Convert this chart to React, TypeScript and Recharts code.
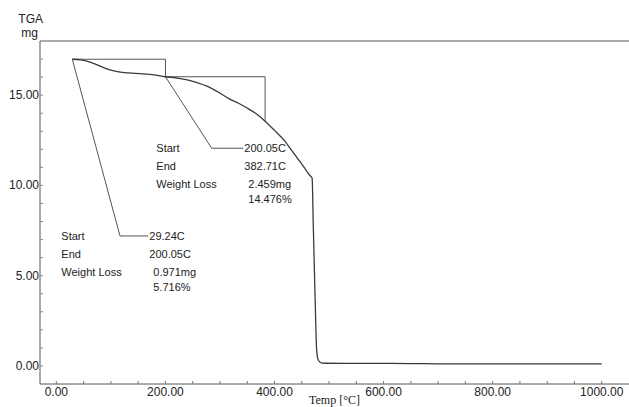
import { LineChart, Line, XAxis, YAxis, ReferenceLine, ReferenceDot, Label } from 'recharts'

// TGA curve
const tempC = [
  29.24, 45, 60, 75, 90, 100, 112, 125, 145, 165, 185, 200.05, 220, 240, 258, 276, 298, 318, 334, 349,
  366, 382.71, 400, 419, 430, 441, 453, 465, 469, 471, 473, 475, 477, 479, 482, 487, 495, 550, 600,
  650, 700, 750, 800, 900, 1000,
]
const massMg = [
  16.99, 16.95, 16.85, 16.68, 16.48, 16.38, 16.3, 16.25, 16.21, 16.17, 16.1, 16.02, 15.95, 15.85, 15.7,
  15.5, 15.15, 14.78, 14.55, 14.3, 13.98, 13.56, 13.05, 12.45, 12.0, 11.55, 11.05, 10.55, 10.4, 7.9,
  5.5, 3.1, 1.0, 0.45, 0.25, 0.16, 0.15, 0.14, 0.14, 0.13, 0.12, 0.11, 0.11, 0.11, 0.11,
]

const xTicks = [0, 50, 100, 150, 200, 250, 300, 350, 400, 450, 500, 550, 600, 650, 700, 750, 800, 850, 900, 950, 1000]
const yTicks = [0, 1, 2, 3, 4, 5, 6, 7, 8, 9, 10, 11, 12, 13, 14, 15, 16, 17]

// weight-loss steps
const step1 = { start: 29.24, end: 200.05, m0: 16.99, m1: 16.02, loss: '0.971mg', pct: '5.716%' }
const step2 = { start: 200.05, end: 382.71, m0: 16.02, m1: 13.56, loss: '2.459mg', pct: '14.476%' }

// leader lines from the step start to the text block
const leader1 = [
  { x: 29.24, y: 16.99 },
  { x: 116.7, y: 7.2 },
  { x: 168.6, y: 7.2 },
]
const leader2 = [
  { x: 200.05, y: 16.02 },
  { x: 284.8, y: 12.06 },
  { x: 342.8, y: 12.06 },
]

const data = tempC.map((t, i) => ({ t, m: massMg[i] }))

const INK = '#3a3a3a'
const FONT = '"Liberation Sans", Arial, sans-serif'

function XTick(props: any) {
  const { x, y, payload } = props
  const v = payload.value
  return (
    <g>
      <line x1={x} x2={x} y1={y} y2={y - 3} stroke="#777" />
      {v % 200 === 0 && (
        <text x={x} y={y + 12} textAnchor="middle" fontSize={12} fontFamily={FONT} fill="#222">
          {v.toFixed(2)}
        </text>
      )}
    </g>
  )
}

function YTick(props: any) {
  const { x, y, payload } = props
  const v = payload.value
  return (
    <g>
      <line x1={x} x2={x + 3} y1={y} y2={y} stroke="#888" />
      {v % 5 === 0 && (
        <text x={x - 1} y={y} dy={4} textAnchor="end" fontSize={12} fontFamily={FONT} fill="#222">
          {v.toFixed(2)}
        </text>
      )}
    </g>
  )
}

function StepText({ cx, cy, step }: any) {
  const lab = cx - 87
  const t = { fontSize: 11, fontFamily: FONT, fill: '#222', dominantBaseline: 'central' as const }
  return (
    <g>
      <text x={lab} y={cy} {...t}>Start</text>
      <text x={cx + 1} y={cy} {...t}>{step.start.toFixed(2)}C</text>
      <text x={lab} y={cy + 18} {...t}>End</text>
      <text x={cx + 1} y={cy + 18} {...t}>{step.end.toFixed(2)}C</text>
      <text x={lab} y={cy + 36} {...t}>Weight Loss</text>
      <text x={cx + 5} y={cy + 36} {...t}>{step.loss}</text>
      <text x={cx + 5} y={cy + 51} {...t}>{step.pct}</text>
    </g>
  )
}

function AxisTitle({ viewBox }: any) {
  const right = viewBox.x + viewBox.width
  return (
    <g fontFamily={FONT} fontSize={12} fill="#222">
      <text x={right + 3} y={viewBox.y - 18} textAnchor="end">TGA</text>
      <text x={right - 2} y={viewBox.y - 4} textAnchor="end">mg</text>
    </g>
  )
}

export default function App() {
  return (
    <div style={{ position: 'fixed', left: 0, top: 0, background: '#fff' }}>
      <LineChart width={629} height={407} data={data} margin={{ top: 41, right: 0, bottom: 0, left: 0 }}>
        <XAxis
          dataKey="t"
          type="number"
          domain={[-30, 1050]}
          ticks={xTicks}
          interval={0}
          height={23}
          tickSize={0}
          tickMargin={0}
          tick={<XTick />}
          axisLine={{ stroke: '#555' }}
          tickLine={false}
          allowDataOverflow
        >
          <Label
            value="Temp [°C]"
            position="insideBottom"
            offset={3}
            style={{ fontFamily: '"Liberation Serif", "Times New Roman", serif', fontSize: 12, fill: '#222' }}
          />
        </XAxis>
        <YAxis
          type="number"
          domain={[-1, 18]}
          ticks={yTicks}
          interval={0}
          width={40}
          tickSize={0}
          tickMargin={0}
          tick={<YTick />}
          axisLine={{ stroke: '#555' }}
          tickLine={false}
          allowDataOverflow
        >
          <Label content={<AxisTitle />} />
        </YAxis>
        <ReferenceLine y={18} stroke="#555" />

        {[step1, step2].map((s, i) => (
          <ReferenceLine
            key={'h' + i}
            segment={[{ x: s.start, y: s.m0 }, { x: s.end, y: s.m0 }]}
            stroke="#555"
          />
        ))}
        {[step1, step2].map((s, i) => (
          <ReferenceLine
            key={'v' + i}
            segment={[{ x: s.end, y: s.m0 }, { x: s.end, y: s.m1 }]}
            stroke="#555"
          />
        ))}
        {[leader1, leader2].map((ld, i) =>
          ld.slice(1).map((p, j) => (
            <ReferenceLine key={'l' + i + j} segment={[ld[j], p]} stroke="#555" />
          ))
        )}

        <Line
          type="monotone"
          dataKey="m"
          stroke={INK}
          strokeWidth={1.3}
          dot={false}
          isAnimationActive={false}
        />

        <ReferenceDot
          x={leader1[2].x}
          y={leader1[2].y}
          r={0}
          shape={(p: any) => <StepText cx={p.cx} cy={p.cy} step={step1} />}
        />
        <ReferenceDot
          x={leader2[2].x}
          y={leader2[2].y}
          r={0}
          shape={(p: any) => <StepText cx={p.cx} cy={p.cy} step={step2} />}
        />
      </LineChart>
    </div>
  )
}
